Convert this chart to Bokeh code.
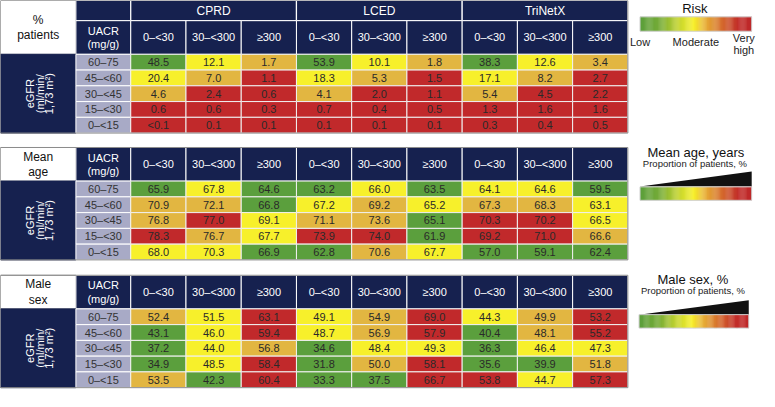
from bokeh.plotting import figure
from bokeh.models import Range1d
from bokeh.embed import file_html
from bokeh.resources import INLINE
from bokeh.core.properties import value
import numpy as np

# ---------------- data ----------------
datasets = ["CPRD", "LCED", "TriNetX"]
uacr_labels = ["0–<30", "30–<300", "≥300"]
egfr_labels = ["60–75", "45–<60", "30–<45", "15–<30", "0–<15"]

# % patients (rows = eGFR, cols = CPRD x3, LCED x3, TriNetX x3)
pct_values = [
    ["48.5", "12.1", "1.7", "53.9", "10.1", "1.8", "38.3", "12.6", "3.4"],
    ["20.4", "7.0", "1.1", "18.3", "5.3", "1.5", "17.1", "8.2", "2.7"],
    ["4.6", "2.4", "0.6", "4.1", "2.0", "1.1", "5.4", "4.5", "2.2"],
    ["0.6", "0.6", "0.3", "0.7", "0.4", "0.5", "1.3", "1.6", "1.6"],
    ["<0.1", "0.1", "0.1", "0.1", "0.1", "0.1", "0.3", "0.4", "0.5"],
]
pct_risk = [
    ["G", "Y", "O", "G", "Y", "O", "G", "Y", "O"],
    ["Y", "O", "R", "Y", "O", "R", "Y", "O", "R"],
    ["O", "R", "R", "O", "R", "R", "O", "R", "R"],
    ["R", "R", "R", "R", "R", "R", "R", "R", "R"],
    ["R", "R", "R", "R", "R", "R", "R", "R", "R"],
]

age_values = [
    [65.9, 67.8, 64.6, 63.2, 66.0, 63.5, 64.1, 64.6, 59.5],
    [70.9, 72.1, 66.8, 67.2, 69.2, 65.2, 67.3, 68.3, 63.1],
    [76.8, 77.0, 69.1, 71.1, 73.6, 65.1, 70.3, 70.2, 66.5],
    [78.3, 76.7, 67.7, 73.9, 74.0, 61.9, 69.2, 71.0, 66.6],
    [68.0, 70.3, 66.9, 62.8, 70.6, 67.7, 57.0, 59.1, 62.4],
]
age_level = [
    ["G", "Y", "G", "G", "Y", "G", "Y", "Y", "G"],
    ["O", "O", "G", "Y", "O", "Y", "O", "O", "Y"],
    ["O", "R", "Y", "O", "O", "G", "R", "R", "Y"],
    ["R", "O", "Y", "R", "R", "G", "R", "R", "O"],
    ["Y", "Y", "G", "G", "O", "Y", "G", "G", "G"],
]

male_values = [
    [52.4, 51.5, 63.1, 49.1, 54.9, 69.0, 44.3, 49.9, 53.2],
    [43.1, 46.0, 59.4, 48.7, 56.9, 57.9, 40.4, 48.1, 55.2],
    [37.2, 44.0, 56.8, 34.6, 48.4, 49.3, 36.3, 46.4, 47.3],
    [34.9, 48.5, 58.4, 31.8, 50.0, 58.1, 35.6, 39.9, 51.8],
    [53.5, 42.3, 60.4, 33.3, 37.5, 66.7, 53.8, 44.7, 57.3],
]
male_level = [
    ["O", "Y", "R", "Y", "O", "R", "Y", "O", "R"],
    ["G", "Y", "R", "Y", "O", "R", "G", "O", "R"],
    ["G", "Y", "O", "G", "Y", "Y", "G", "Y", "Y"],
    ["G", "Y", "R", "G", "O", "R", "G", "G", "O"],
    ["O", "G", "R", "G", "G", "R", "R", "Y", "R"],
]

# ---------------- style ----------------
NAVY = "#16214f"
LAV = "#a8aac6"
CELL_TXT = "#2a2a2a"
CAT_COL = {"G": "#5b9f3d", "Y": "#f7f02b", "O": "#e2b641", "R": "#c1292b"}
FONT = value("Liberation Sans")

W, H = 775, 407
p = figure(width=759, height=391, output_backend="svg", toolbar_location=None,
           x_range=Range1d(0, W), y_range=Range1d(H, 0), min_border=0)
p.axis.visible = False
p.grid.visible = False
p.outline_line_color = None
p.background_fill_color = "white"


def txt(x, y, s, size="11px", color=CELL_TXT, align="center", angle=0.0, style="normal"):
    p.text(x=[x], y=[y], text=[s], text_font=FONT, text_font_size=size,
           text_color=color, text_align=align, text_baseline="middle",
           angle=angle, text_font_style=style)


X1, X2 = 77, 133
CW = 56.4
RH = 16.4
XR = X2 + 9 * CW


def panel(top, h1, h2, label, vals, cats, fmt):
    dtop = top + h1 + h2
    # white top-left label cell
    p.quad(left=[0], right=[X1], top=[top], bottom=[dtop], fill_color="white",
           line_color="#9a9a9a", line_width=1)
    txt(X1 / 2, top + (h1 + h2) / 2 - 8, label[0], size="12px", color="#111111")
    txt(X1 / 2, top + (h1 + h2) / 2 + 8, label[1], size="12px", color="#111111")
    # dataset header row
    if h1 > 0:
        p.quad(left=[X1], right=[X2], top=[top], bottom=[top + h1], fill_color=NAVY,
               line_color="white", line_width=1)
        for g, name in enumerate(datasets):
            l = X2 + 3 * g * CW
            p.quad(left=[l], right=[l + 3 * CW], top=[top], bottom=[top + h1],
                   fill_color=NAVY, line_color="white", line_width=1.2)
            txt(l + 1.5 * CW, top + h1 / 2, name, size="12px", color="white")
    # UACR header cell
    p.quad(left=[X1], right=[X2], top=[top + h1], bottom=[dtop], fill_color=NAVY,
           line_color="white", line_width=1)
    txt((X1 + X2) / 2, top + h1 + h2 / 2 - 7, "UACR", color="white")
    txt((X1 + X2) / 2, top + h1 + h2 / 2 + 7, "(mg/g)", color="white")
    # column headers
    lefts = [X2 + i * CW for i in range(9)]
    p.quad(left=lefts, right=[l + CW for l in lefts], top=[top + h1] * 9,
           bottom=[dtop] * 9, fill_color=NAVY, line_color="white", line_width=1)
    for i, l in enumerate(lefts):
        txt(l + CW / 2, top + h1 + h2 / 2, uacr_labels[i % 3], color="white")
    # eGFR block
    p.quad(left=[0], right=[X1], top=[dtop], bottom=[dtop + 5 * RH], fill_color=NAVY,
           line_color=NAVY, line_width=1)
    cy = dtop + 2.5 * RH
    for k, s in enumerate(["eGFR", "(ml/min/", "1,73 m²)"]):
        txt(30 + 10 * k, cy, s, size="11px", color="white", angle=np.pi / 2)
    # row labels
    tops = [dtop + r * RH for r in range(5)]
    p.quad(left=[X1] * 5, right=[X2] * 5, top=tops, bottom=[t + RH for t in tops],
           fill_color=LAV, line_color="white", line_width=1)
    for r, s in enumerate(egfr_labels):
        txt((X1 + X2) / 2, tops[r] + RH / 2, s, color="#333333")
    # data cells
    L, R_, T, B, C = [], [], [], [], []
    for r in range(5):
        for c in range(9):
            L.append(lefts[c]); R_.append(lefts[c] + CW)
            T.append(tops[r]); B.append(tops[r] + RH)
            C.append(CAT_COL[cats[r][c]])
    p.quad(left=L, right=R_, top=T, bottom=B, fill_color=C, line_color="#f0f0f0",
           line_width=1)
    xs, ys, ts = [], [], []
    for r in range(5):
        for c in range(9):
            xs.append(lefts[c] + CW / 2); ys.append(tops[r] + RH / 2)
            ts.append(fmt(vals[r][c]))
    p.text(x=xs, y=ys, text=ts, text_font=FONT, text_font_size="11px",
           text_color=CELL_TXT, text_align="center", text_baseline="middle")
    # outline
    p.quad(left=[0], right=[XR], top=[top], bottom=[dtop + 5 * RH], fill_color=None,
           line_color="#8c8c8c", line_width=1)


panel(0, 21, 35, ["%", "patients"], pct_values, pct_risk, lambda v: v)
panel(153, 0, 35, ["Mean", "age"], age_values, age_level, lambda v: f"{v:.1f}")
panel(286, 0, 35, ["Male", "sex"], male_values, male_level, lambda v: f"{v:.1f}")

# ---------------- legends ----------------
stops = [0.0, 0.18, 0.34, 0.48, 0.57, 0.72, 0.88, 1.0]
stop_rgb = np.array([(90, 158, 60), (118, 172, 55), (195, 212, 48), (247, 240, 42),
                     (233, 182, 55), (214, 112, 45), (194, 46, 42), (190, 40, 42)])


def gradient(x0, x1, y0, y1, n=120):
    edges = np.linspace(x0, x1, n + 1)
    t = (np.arange(n) + 0.5) / n
    cols = []
    for tt in t:
        rgb = [np.interp(tt, stops, stop_rgb[:, k]) for k in range(3)]
        cols.append("#%02x%02x%02x" % tuple(int(round(v)) for v in rgb))
    p.quad(left=edges[:-1], right=edges[1:] + 0.3, top=[y0] * n, bottom=[y1] * n,
           fill_color=cols, line_color=None)
    p.quad(left=[x0], right=[x1], top=[y0], bottom=[y1], fill_color=None,
           line_color="#d0d0d0", line_width=1)


# Risk legend
txt(709, 8, "Risk", size="13px", color="#111111")
gradient(653, 767, 17, 32)
txt(653, 43, "Low", size="11px", color="#222222")
txt(710, 43, "Moderate", size="11px", color="#222222")
txt(759, 39, "Very", size="11px", color="#222222")
txt(759, 52, "high", size="11px", color="#222222")

# Mean age legend
txt(710, 158, "Mean age, years", size="13px", color="#111111")
txt(709, 170, "Proportion of patients, %", size="9.5px", color="#222222")
p.patch(x=[653, 767, 767], y=[193.5, 178, 193.5], fill_color="#111111", line_color=None)
gradient(653, 767, 194, 208)

# Male sex legend
txt(707, 290, "Male sex, %", size="13px", color="#111111")
txt(707, 302, "Proportion of patients, %", size="9.5px", color="#222222")
p.patch(x=[652, 764, 764], y=[327, 312, 327], fill_color="#111111", line_color=None)
gradient(652, 764, 327, 341)

open("out.html", "w").write(file_html(p, INLINE))
